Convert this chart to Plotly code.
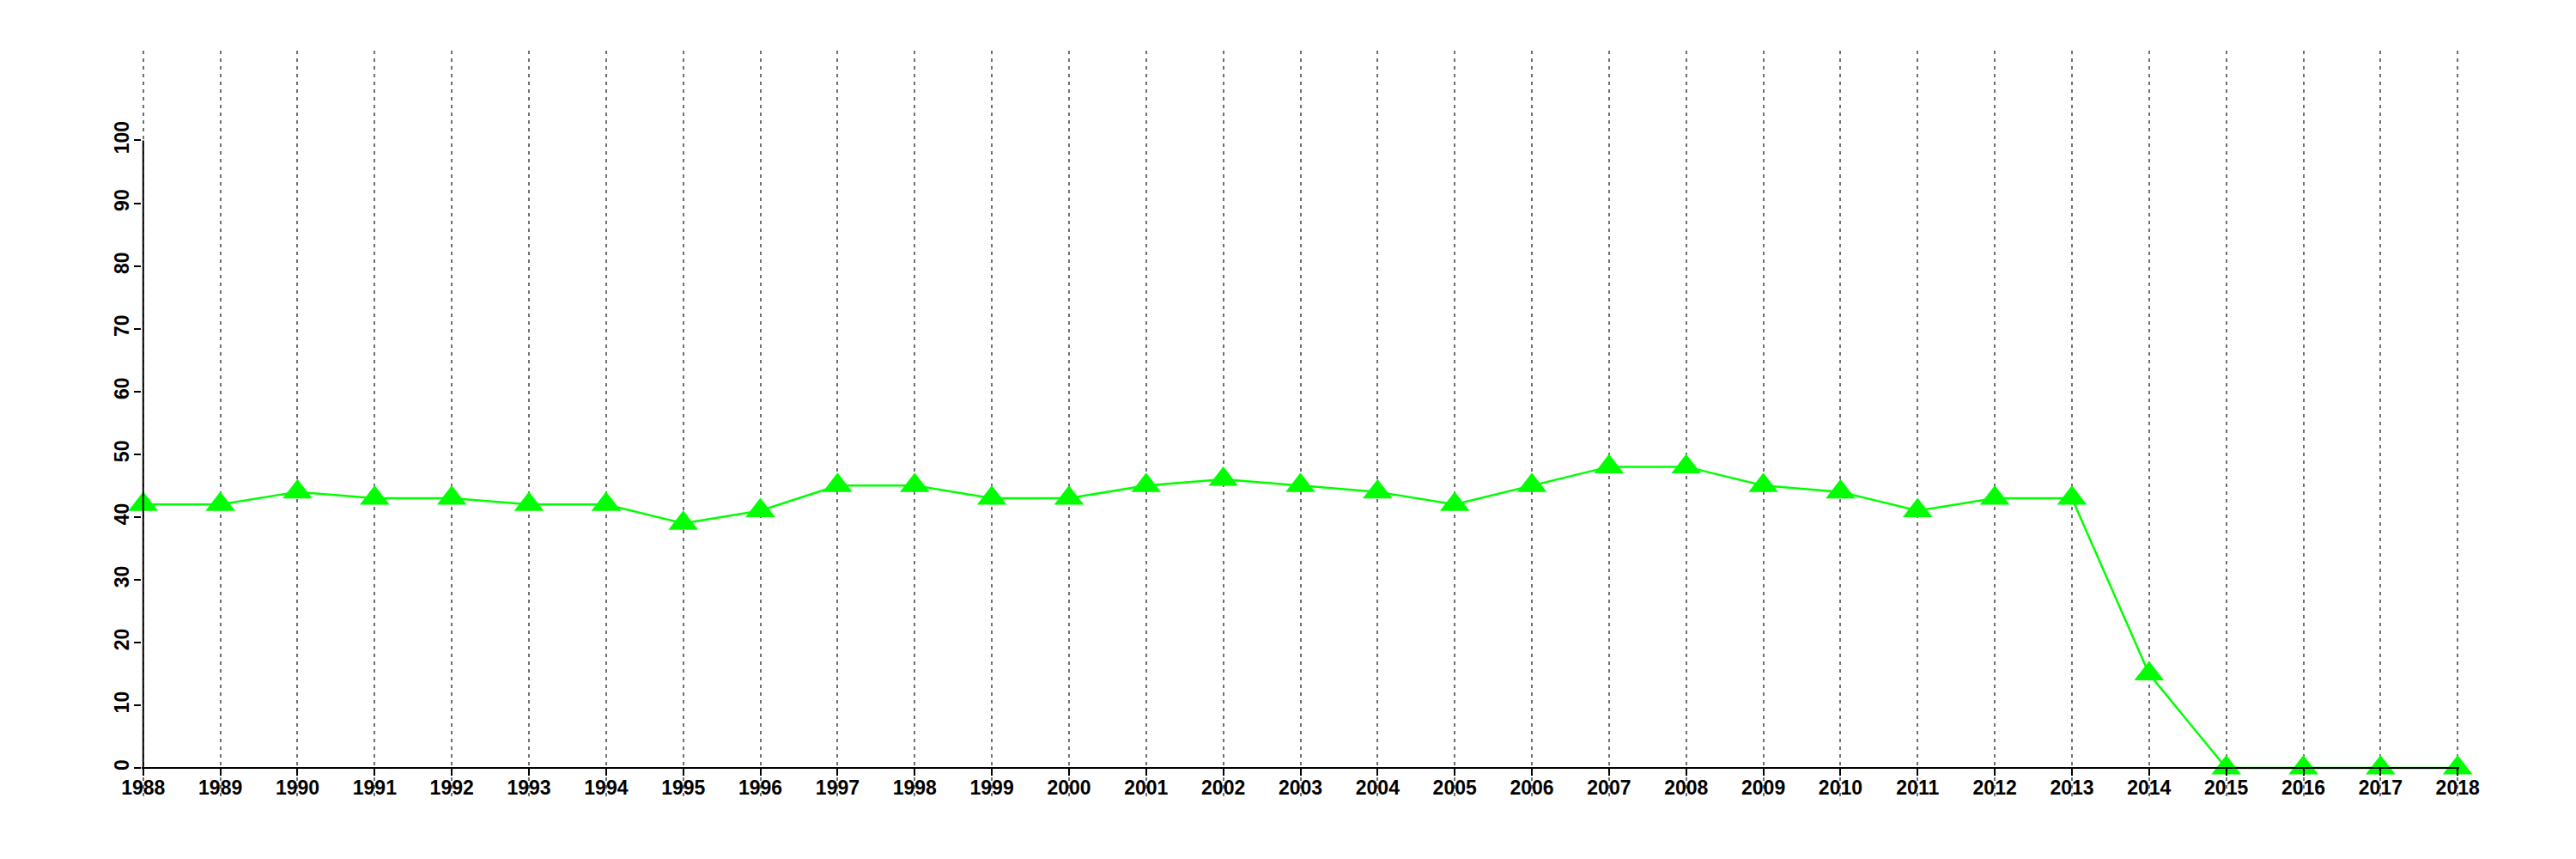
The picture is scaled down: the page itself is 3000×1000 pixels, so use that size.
import plotly.graph_objects as go

years = list(range(1988, 2019))
values = [42, 42, 44, 43, 43, 42, 42, 39, 41, 45, 45, 43, 43, 45, 46, 45, 44, 42,
          45, 48, 48, 45, 44, 41, 43, 43, 15, 0, 0, 0, 0]
y_ticks = list(range(0, 101, 10))

Y_MIN, Y_MAX = -4.5, 114.3
X_PAD = 0.02
BODY = 8  # default page margin of the browser body

fig = go.Figure()
fig.add_trace(go.Scatter(
    x=years, y=values, mode="lines+markers",
    line=dict(color="#00FF00", width=2.5),
    marker=dict(symbol="triangle-up", size=30, color="#00FF00"),
    cliponaxis=False, showlegend=False,
))

font = dict(family="Liberation Sans, Arial, sans-serif", size=23, color="black", weight="bold")

fig.update_layout(
    width=3000 - BODY, height=1000 - BODY,
    margin=dict(l=165 - BODY, r=136, t=59 - BODY, b=73, pad=0),
    paper_bgcolor="white", plot_bgcolor="white",
    xaxis=dict(
        range=[years[0] - X_PAD, years[-1] + X_PAD],
        tickvals=years, ticktext=[str(y) for y in years],
        tickfont=font, ticks="outside", ticklen=8, tickwidth=2, tickcolor="black",
        ticklabelstandoff=-6,
        showline=True, linecolor="black", linewidth=2,
        showgrid=True, gridcolor="#707070", gridwidth=2, griddash="4px,5px",
        zeroline=False, anchor="free",
        position=(0 - Y_MIN) / (Y_MAX - Y_MIN),
    ),
    yaxis=dict(
        range=[Y_MIN, Y_MAX],
        tickvals=y_ticks, ticktext=[str(v) for v in y_ticks],
        tickfont=font, tickangle=-90, ticks="outside", ticklen=8, tickwidth=2,
        ticklabelstandoff=-3,
        tickcolor="black", showline=False, showgrid=False, zeroline=False,
    ),
    shapes=[dict(type="line", xref="x", yref="y", x0=years[0], x1=years[0],
                 y0=y_ticks[0], y1=y_ticks[-1], line=dict(color="black", width=2))],
)

fig.write_html("out.html")
